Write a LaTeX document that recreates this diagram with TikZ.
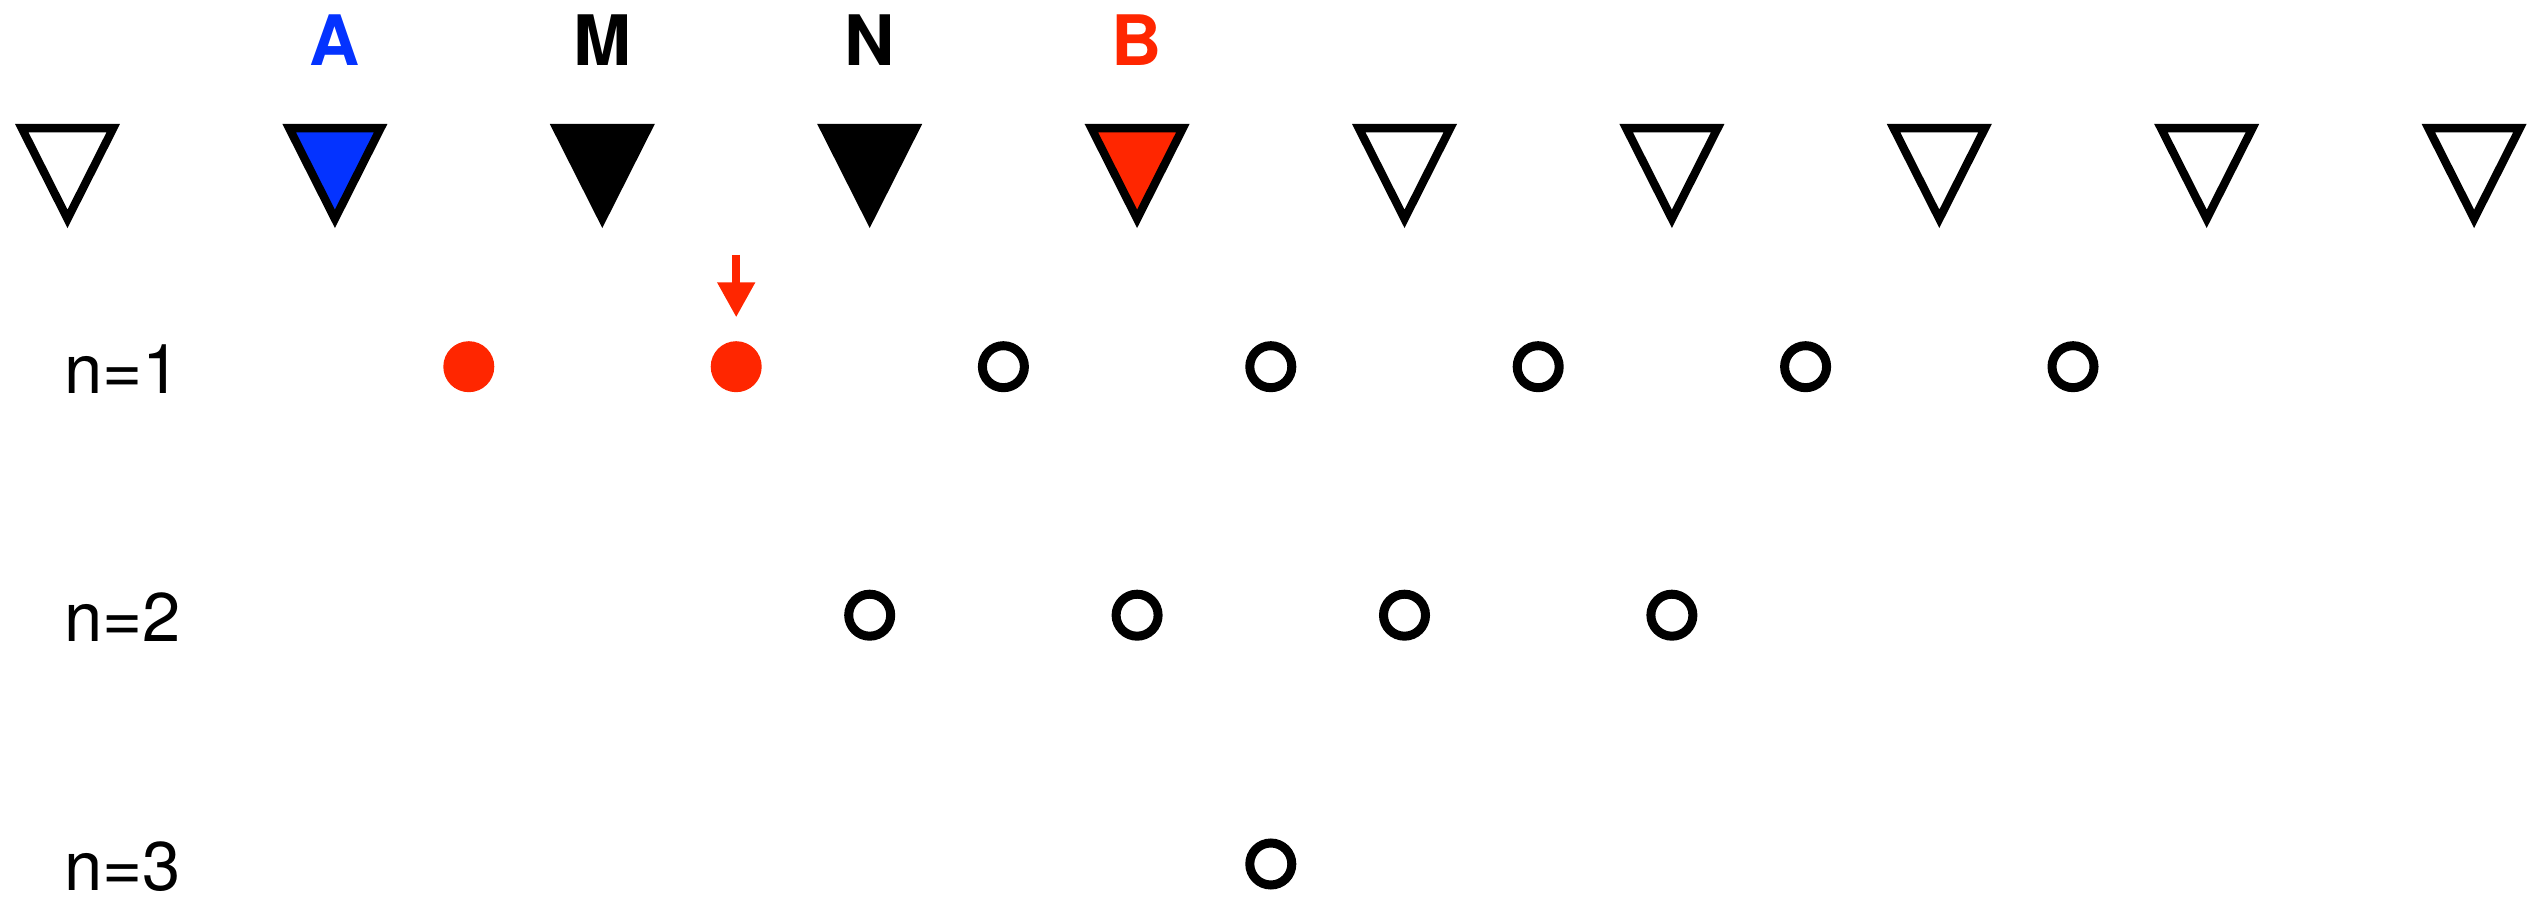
\documentclass[tikz,border=0pt]{standalone}
\usepackage{fontspec}
\setsansfont{TeX Gyre Heros}
\usetikzlibrary{arrows.meta}
\definecolor{myblue}{RGB}{4,51,255}
\definecolor{myred}{RGB}{255,38,0}
\tikzset{
  tri/.style={draw=black, line width=4.15pt, line join=miter},
  toplbl/.style={font=\sffamily\bfseries\fontsize{34.8pt}{40pt}\selectfont, inner sep=0pt, anchor=base},
  rowlbl/.style={font=\sffamily\fontsize{34.4pt}{40pt}\selectfont, inner sep=0pt, anchor=base west},
  opendot/.style={circle, draw=black, line width=4.5pt, minimum size=21pt, inner sep=0pt},
  reddot/.style={circle, fill=myred, minimum size=25.5pt, inner sep=0pt},
  redarrow/.style={draw=myred, line width=4pt, -{Triangle[length=17.5pt,width=18pt]}},
}
\begin{document}
\begin{tikzpicture}[x=0.5pt,y=-0.5pt]
\useasboundingbox (0,0) rectangle (2544,898);
% triangles
\foreach \i/\f in {0/white,1/myblue,2/black,3/black,4/myred,5/white,6/white,7/white,8/white,9/white}{
  \pgfmathsetmacro\cx{67.5+267.4*\i}
  \coordinate (t\i) at (\cx,128.15);
  \draw[tri, fill=\f] (\cx-45.75,128.15) -- (\cx+45.75,128.15) -- (\cx,218.8) -- cycle;
}
% top labels
\node[toplbl, text=myblue] (lA) at (334.9,65.7) {A};
\node[toplbl] (lM) at (602.3,65.7) {M};
\node[toplbl] (lN) at (869.7,65.7) {N};
\node[toplbl, text=myred] (lB) at (1137.1,65.7) {B};
% row labels
\node[rowlbl] (n1) at (64,393.3) {n=1};
\node[rowlbl] (n2) at (64,641.7) {n=2};
\node[rowlbl] (n3) at (64,890.5) {n=3};
% row 1
\node[reddot] (r1a) at (468.8,366.7) {};
\node[reddot] (r1b) at (736.2,366.7) {};
\foreach \k [count=\j] in {3,...,7}{
  \node[opendot] (r1o\j) at ({67.5+267.4*(\k+0.5)},366.7) {};
}
% row 2
\foreach \k [count=\j] in {3,...,6}{
  \node[opendot] (r2o\j) at ({67.5+267.4*\k},615.2) {};
}
% row 3
\node[opendot] (r3o1) at ({67.5+267.4*4.5},864) {};
% arrow
\coordinate (arrtop) at (736.2,255);
\draw[redarrow, shorten >=11.75pt] (arrtop) -- (r1b.north);
\end{tikzpicture}
\end{document}
